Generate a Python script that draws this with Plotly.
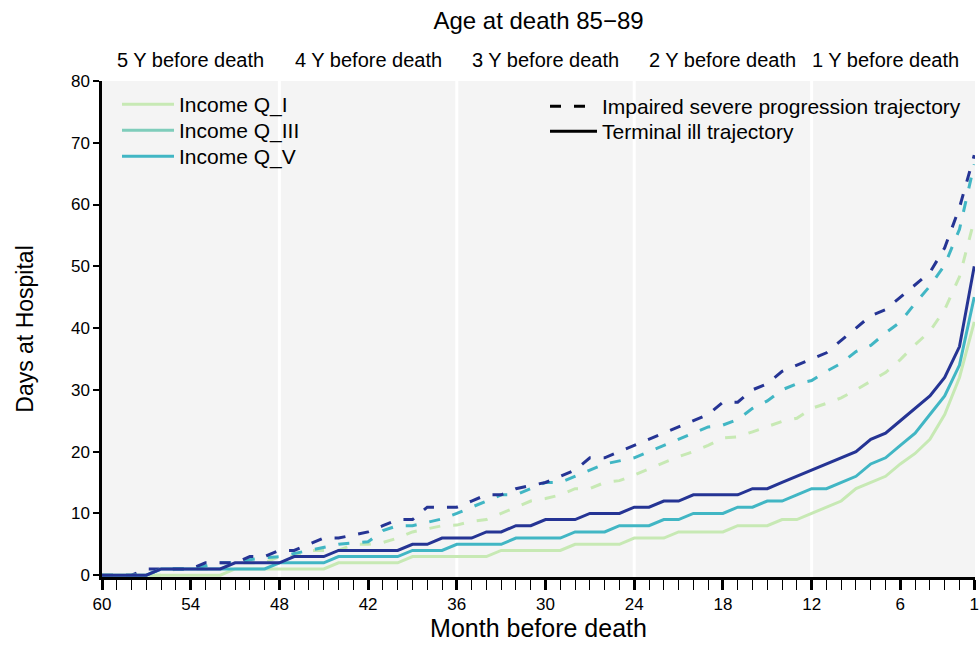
import plotly.graph_objects as go

# ---------------- data ----------------
months = [60, 59, 58, 57, 56, 55, 54, 53, 52, 51,
          50, 49, 48, 47, 46, 45, 44, 43, 42, 41,
          40, 39, 38, 37, 36, 35, 34, 33, 32, 31,
          30, 29, 28, 27, 26, 25, 24, 23, 22, 21,
          20, 19, 18, 17, 16, 15, 14, 13, 12, 11,
          10, 9, 8, 7, 6, 5, 4, 3, 2, 1]

# Terminal ill trajectory (solid)
terminal_q1 = [0, 0, 0, 0, 0, 0, 0, 0, 0, 1,
               1, 1, 1, 1, 1, 1, 2, 2, 2, 2,
               2, 3, 3, 3, 3, 3, 3, 4, 4, 4,
               4, 4, 5, 5, 5, 5, 6, 6, 6, 7,
               7, 7, 7, 8, 8, 8, 9, 9, 10, 11,
               12, 14, 15, 16, 18, 19.7, 22, 26, 32, 41]
terminal_q3 = [0, 0, 0, 0, 1, 1, 1, 1, 1, 1,
               1, 1, 2, 2, 2, 2, 3, 3, 3, 3,
               3, 4, 4, 4, 5, 5, 5, 5, 6, 6,
               6, 6, 7, 7, 7, 8, 8, 8, 9, 9,
               10, 10, 10, 11, 11, 12, 12, 13, 14, 14,
               15, 16, 18, 19, 21, 23, 26, 29, 34, 45]
terminal_q5 = [0, 0, 0, 0, 1, 1, 1, 1, 1, 2,
               2, 2, 2, 3, 3, 3, 4, 4, 4, 4,
               4, 5, 5, 6, 6, 6, 7, 7, 8, 8,
               9, 9, 9, 10, 10, 10, 11, 11, 12, 12,
               13, 13, 13, 13, 14, 14, 15, 16, 17, 18,
               19, 20, 22, 23, 25, 27, 29, 32, 37, 50]

# Impaired severe progression trajectory (dashed)
impaired_q1 = [0, 0, 0, 0, 0, 1, 1, 1, 1, 2,
               2, 2, 3, 3, 4, 4, 4, 5, 5, 5.3,
               6, 7, 7.5, 8, 8.1, 8.7, 9, 10, 11, 12,
               12.4, 13, 14, 14, 15, 15.3, 16.2, 17.2, 18.2, 19.2,
               20, 21, 22.2, 22.4, 23.2, 24.1, 24.9, 25.4, 27, 27.8,
               28.7, 30, 31.4, 32.8, 34.9, 37.3, 39.5, 43, 48.3, 57.5]
impaired_q3 = [0, 0, 0, 0, 1, 1, 1, 1.5, 2, 2,
               2.5, 2.8, 3, 3.5, 4, 4.5, 5, 5.2, 5.4, 7.2,
               8, 8, 8.5, 9.1, 10, 11, 12, 13, 13, 14,
               15, 15, 16, 17, 18, 18.5, 19, 20, 21, 22,
               23, 24, 24.3, 25.2, 27, 28.2, 30, 31, 31.5, 33,
               34.3, 36.2, 37.2, 39.2, 41, 44, 46.8, 50.2, 56, 66.5]
impaired_q5 = [0, 0, 0, 1, 1, 1, 1, 2, 2, 2,
               3, 3, 4, 4, 5, 6, 6, 6.5, 7, 8,
               9, 9, 11, 11, 11, 12, 13, 13, 14, 14.5,
               15, 16, 17, 19, 19, 20, 21, 22, 23, 24,
               25, 26, 28, 28, 30, 31, 33, 34, 35, 36,
               38, 40, 42, 43, 45, 47, 49, 53, 59.5, 68]

x_tick_vals = [60, 54, 48, 42, 36, 30, 24, 18, 12, 6, 1]
x_tick_text = ["60", "54", "48", "42", "36", "30", "24", "18", "12", "6", "1"]
y_tick_vals = [0, 10, 20, 30, 40, 50, 60, 70, 80]
year_marks = [48, 36, 24, 12]
year_label_pos = [54, 42, 30, 18, 7]
year_labels = ["5 Y before death", "4 Y before death", "3 Y before death",
               "2 Y before death", "1 Y before death"]

income_legend = ["Income Q_I", "Income Q_III", "Income Q_V"]
income_legend_colors = ["#c7e9b4", "#7fcdbb", "#41b6c4"]
line_colors = ["#c7e9b4", "#41b6c4", "#253494"]
trajectory_legend = ["Impaired severe progression trajectory", "Terminal ill trajectory"]

FONT = "Liberation Sans, Arial, sans-serif"
DASH = "11px,13px"

W, H = 979, 664
# plot panel in page pixels
PL, PR, PT, PB = 102, 975, 81, 577


def lx(px):
    return (px - PL) / (PR - PL)


def ly(py):
    return 1 - (py - PT) / (PB - PT)


fig = go.Figure()

series = [(impaired_q1, terminal_q1), (impaired_q3, terminal_q3), (impaired_q5, terminal_q5)]
for (imp, term), col in zip(series, line_colors):
    fig.add_trace(go.Scatter(x=months, y=imp, mode="lines", showlegend=False,
                             line=dict(color=col, width=3, dash=DASH), hoverinfo="skip"))
for (imp, term), col in zip(series, line_colors):
    fig.add_trace(go.Scatter(x=months, y=term, mode="lines", showlegend=False,
                             line=dict(color=col, width=3), hoverinfo="skip"))

legend_layouts = {}
# income legend rows
income_rows = [105, 131, 157]
for i, (name, col) in enumerate(zip(income_legend, income_legend_colors)):
    key = "legend" if i == 0 else "legend%d" % (i + 1)
    fig.add_trace(go.Scatter(x=[None], y=[None], mode="lines", name=name,
                             line=dict(color=col, width=3), legend=key))
    legend_layouts[key] = dict(x=lx(117), y=ly(income_rows[i] - 21), xanchor="left", yanchor="top",
                               bgcolor="rgba(0,0,0,0)", font=dict(size=21, color="black"),
                               itemwidth=52)
# trajectory legend rows
traj_rows = [107, 132]
traj_dash = [DASH, "solid"]
for j, (name, dsh) in enumerate(zip(trajectory_legend, traj_dash)):
    key = "legend%d" % (j + 4)
    fig.add_trace(go.Scatter(x=[None], y=[None], mode="lines", name=name,
                             line=dict(color="black", width=3, dash=dsh), legend=key))
    legend_layouts[key] = dict(x=lx(545), y=ly(traj_rows[j] - 21), xanchor="left", yanchor="top",
                               bgcolor="rgba(0,0,0,0)", font=dict(size=21, color="black"),
                               itemwidth=47)

for xv in year_marks:
    fig.add_shape(type="line", xref="x", yref="paper", x0=xv, x1=xv, y0=0, y1=1,
                  line=dict(color="white", width=3), layer="below")

for xv, txt in zip(year_label_pos, year_labels):
    fig.add_annotation(x=xv, y=1, xref="x", yref="paper", text=txt, showarrow=False,
                       yanchor="bottom", yshift=8, font=dict(size=20, color="black", family=FONT))

fig.update_layout(
    width=W, height=H,
    margin=dict(l=PL, r=W - PR, t=PT, b=H - PB, autoexpand=False),
    paper_bgcolor="white", plot_bgcolor="#f4f4f4",
    font=dict(family=FONT, color="black"),
    title=dict(text="Age at death 85\u221289", x=0.5, xref="paper", y=1 - 21 / H,
               yanchor="middle", xanchor="center", font=dict(size=24, color="black")),
    xaxis=dict(range=[60, 0.95], tickvals=x_tick_vals, ticktext=x_tick_text, automargin=False,
               ticks="outside", ticklen=10, tickwidth=2.5, tickcolor="black",
               showline=True, linecolor="black", linewidth=2.5, showgrid=False, zeroline=False,
               tickfont=dict(size=17, color="black"),
               minor=dict(tickvals=months, ticks="outside", ticklen=10, tickwidth=1,
                          tickcolor="black", showgrid=False),
               title=dict(text="Month before death", font=dict(size=25, color="black"), standoff=0)),
    yaxis=dict(range=[-0.3, 80], tickvals=y_tick_vals, ticks="outside", ticklen=6, automargin=False,
               tickwidth=2, tickcolor="black", showline=True, linecolor="black", linewidth=2.5,
               showgrid=False, zeroline=False, tickfont=dict(size=17, color="black"),
               title=dict(text="Days at Hospital", font=dict(size=23, color="black"), standoff=31)),
    **legend_layouts,
)

# remove the default page margin so the figure fills the 979x664 window exactly
fig.write_html("out.html",
               config={"displayModeBar": False},
               post_script="document.body.style.margin='0';"
                           "document.documentElement.style.overflow='hidden';")
